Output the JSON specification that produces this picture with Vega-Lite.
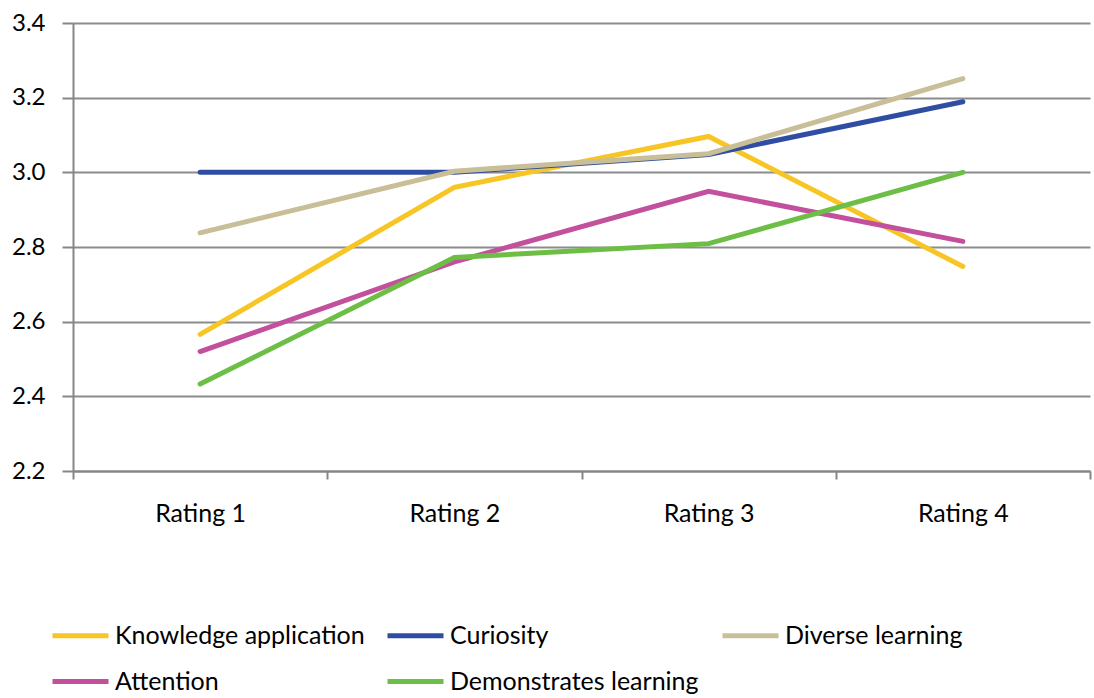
{
  "$schema": "https://vega.github.io/schema/vega-lite/v6.json",
  "width": 1017,
  "height": 448,
  "autosize": {"type": "none"},
  "padding": {"left": 73, "top": 23, "right": 4, "bottom": 227},
  "background": "white",
  "config": {
    "view": {"stroke": null},
    "font": "Lato",
    "axis": {"labelFont": "Lato", "labelColor": "#000000"},
    "legend": {"labelFont": "Lato"}
  },
  "data": {
    "values": [
      {"rating": "Rating 1", "series": "Knowledge application", "value": 2.566},
      {"rating": "Rating 2", "series": "Knowledge application", "value": 2.96},
      {"rating": "Rating 3", "series": "Knowledge application", "value": 3.096},
      {"rating": "Rating 4", "series": "Knowledge application", "value": 2.748},
      {"rating": "Rating 1", "series": "Curiosity", "value": 3.0},
      {"rating": "Rating 2", "series": "Curiosity", "value": 3.0},
      {"rating": "Rating 3", "series": "Curiosity", "value": 3.048},
      {"rating": "Rating 4", "series": "Curiosity", "value": 3.189},
      {"rating": "Rating 1", "series": "Diverse learning", "value": 2.838},
      {"rating": "Rating 2", "series": "Diverse learning", "value": 3.003},
      {"rating": "Rating 3", "series": "Diverse learning", "value": 3.05},
      {"rating": "Rating 4", "series": "Diverse learning", "value": 3.251},
      {"rating": "Rating 1", "series": "Attention", "value": 2.52},
      {"rating": "Rating 2", "series": "Attention", "value": 2.76},
      {"rating": "Rating 3", "series": "Attention", "value": 2.949},
      {"rating": "Rating 4", "series": "Attention", "value": 2.815},
      {"rating": "Rating 1", "series": "Demonstrates learning", "value": 2.433},
      {"rating": "Rating 2", "series": "Demonstrates learning", "value": 2.772},
      {"rating": "Rating 3", "series": "Demonstrates learning", "value": 2.809},
      {"rating": "Rating 4", "series": "Demonstrates learning", "value": 3.0}
    ]
  },
  "mark": {"type": "line", "strokeWidth": 5, "strokeCap": "round", "strokeJoin": "miter"},
  "encoding": {
    "x": {
      "field": "rating",
      "type": "ordinal",
      "sort": ["Rating 1", "Rating 2", "Rating 3", "Rating 4"],
      "scale": {"type": "band", "paddingInner": 0, "paddingOuter": 0},
      "axis": {
        "title": null,
        "labelAngle": 0,
        "labelFontSize": 25,
        "labelPadding": 22,
        "tickBand": "extent",
        "tickSize": 8,
        "tickColor": "#868686",
        "tickWidth": 2,
        "domainColor": "#868686",
        "domainWidth": 2,
        "grid": false
      }
    },
    "y": {
      "field": "value",
      "type": "quantitative",
      "scale": {"domain": [2.2, 3.4], "nice": false, "zero": false},
      "axis": {
        "title": null,
        "values": [2.2, 2.4, 2.6, 2.8, 3.0, 3.2, 3.4],
        "format": ".1f",
        "labelFontSize": 24,
        "labelPadding": 17,
        "tickSize": 11,
        "tickColor": "#868686",
        "tickWidth": 2,
        "domainColor": "#868686",
        "domainWidth": 2,
        "grid": true,
        "gridColor": "#8c8c8c",
        "gridWidth": 2
      }
    },
    "color": {
      "field": "series",
      "type": "nominal",
      "sort": ["Knowledge application", "Curiosity", "Diverse learning", "Attention", "Demonstrates learning"],
      "scale": {
        "domain": ["Knowledge application", "Curiosity", "Diverse learning", "Attention", "Demonstrates learning"],
        "range": ["#F7C524", "#2F4EA3", "#C8BE97", "#C2509C", "#6CBE45"]
      },
      "legend": {
        "title": null,
        "orient": "none",
        "legendX": -23,
        "legendY": 582,
        "direction": "horizontal",
        "columns": 3,
        "gridAlign": "all",
        "symbolType": "stroke",
        "symbolSize": 3136,
        "symbolStrokeWidth": 5,
        "labelFontSize": 25,
        "labelOffset": 4,
        "labelLimit": 0,
        "columnPadding": 12,
        "rowPadding": 2,
        "labelColor": "#000000"
      }
    }
  }
}
